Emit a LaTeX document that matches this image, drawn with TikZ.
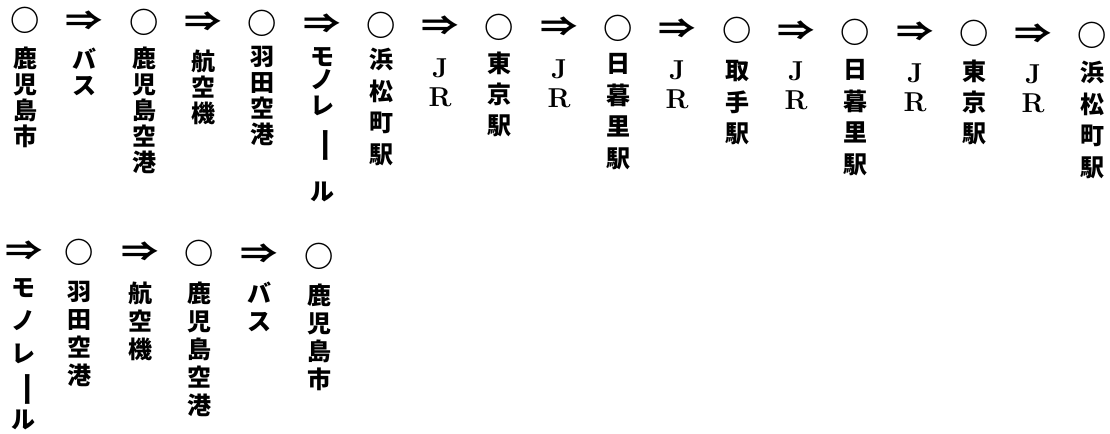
\documentclass[tikz,border=0pt]{standalone}
\usepackage{fontspec}
\newfontfamily\jpfont{Noto Sans CJK JP}
\newcommand{\tbar}{\smash{\rotatebox[origin=c]{-90}{\scalebox{1.5}[1]{ー}}}}

\tikzset{every picture/.style={line width=0.75pt}}
\tikzset{
  sym/.style={inner sep=0pt, font=\jpfont\bfseries\fontsize{22}{22}\selectfont},
  arr/.style={inner sep=0pt, font=\jpfont\bfseries\fontsize{20}{20}\selectfont},
  tate/.style={anchor=north, align=center, inner sep=0pt, font=\jpfont\bfseries\fontsize{18}{19.5}\selectfont},
  tatewide/.style={tate, font=\jpfont\bfseries\fontsize{18}{23.6}\selectfont},
  tatelow/.style={tate, font=\jpfont\bfseries\fontsize{18}{21}\selectfont},
  jr/.style={anchor=north, align=center, inner sep=0pt, font=\bfseries\fontsize{20.5}{21.75}\selectfont}
}

\begin{document}
\begin{tikzpicture}[x=0.75pt,y=0.75pt,yscale=-1,xscale=1]
        \useasboundingbox (0,0) rectangle (1110,434);

        % Text Node
        \draw (25,20) node [sym] (kagoshimaO) {○};
        % Text Node
        \draw (25,46) node [tate] (kagoshima) {鹿\\児\\島\\市};
        % Text Node
        \draw (84,21) node [arr] (busA) {\scalebox{1.4}[1]{⇒}};
        % Text Node
        \draw (84,47) node [tate] (bus) {バ\\ス};
        % Text Node
        \draw (144,22) node [sym] (kagoshimaApO) {○};
        % Text Node
        \draw (144,46) node [tate] (kagoshimaAp) {鹿\\児\\島\\空\\港};
        % Text Node
        \draw (203,22) node [arr] (planeA) {\scalebox{1.4}[1]{⇒}};
        % Text Node
        \draw (203,49) node [tate] (plane) {航\\空\\機};
        % Text Node
        \draw (262,23) node [sym] (hanedaO) {○};
        % Text Node
        \draw (262,46) node [tate] (haneda) {羽\\田\\空\\港};
        % Text Node
        \draw (322,24) node [arr] (monorailA) {\scalebox{1.4}[1]{⇒}};
        % Text Node
        \draw (322,47) node [tate] (monorail) {モ\\[-2.25pt]ノ\\レ\\[8.25pt]\tbar\\[17pt]ル};
        % Text Node
        \draw (381,25) node [sym] (hamamatsuchoO) {○};
        % Text Node
        \draw (381,48) node [tatewide] (hamamatsucho) {浜\\松\\町\\駅};
        % Text Node
        \draw (440,26) node [arr] (jrA) {\scalebox{1.4}[1]{⇒}};
        % Text Node
        \draw (440,58) node [jr] (jr) {J\\R};
        % Text Node
        \draw (499,27) node [sym] (tokyoO) {○};
        % Text Node
        \draw (499,51) node [tatewide] (tokyo) {東\\京\\駅};
        % Text Node
        \draw (559,27) node [arr] (jrB) {\scalebox{1.4}[1]{⇒}};
        % Text Node
        \draw (559,59) node [jr] (jrb) {J\\R};
        % Text Node
        \draw (618,28) node [sym] (nipporiO) {○};
        % Text Node
        \draw (618,53) node [tatewide] (nippori) {日\\暮\\里\\駅};
        % Text Node
        \draw (677,29) node [arr] (jrC) {\scalebox{1.4}[1]{⇒}};
        % Text Node
        \draw (677,60) node [jr] (jrc) {J\\R};
        % Text Node
        \draw (737,30) node [sym] (torideO) {○};
        % Text Node
        \draw (737,60) node [tatewide] (toride) {取\\手\\駅};
        % Text Node
        \draw (796,31) node [arr] (jrD) {\scalebox{1.4}[1]{⇒}};
        % Text Node
        \draw (796,61) node [jr] (jrd) {J\\R};
        % Text Node
        \draw (855,32) node [sym] (nipporiBO) {○};
        % Text Node
        \draw (855,59) node [tatewide] (nipporiB) {日\\暮\\里\\駅};
        % Text Node
        \draw (915,32) node [arr] (jrE) {\scalebox{1.4}[1]{⇒}};
        % Text Node
        \draw (915,63) node [jr] (jre) {J\\R};
        % Text Node
        \draw (974,33) node [sym] (tokyoBO) {○};
        % Text Node
        \draw (974,59) node [tatewide] (tokyoB) {東\\京\\駅};
        % Text Node
        \draw (1033,34) node [arr] (jrF) {\scalebox{1.4}[1]{⇒}};
        % Text Node
        \draw (1033,64) node [jr] (jrf) {J\\R};
        % Text Node
        \draw (1092,35) node [sym] (hamamatsuchoBO) {○};
        % Text Node
        \draw (1092,61) node [tatewide] (hamamatsuchoB) {浜\\松\\町\\駅};

        % Text Node
        \draw (24,251) node [arr] (monorailBA) {\scalebox{1.4}[1]{⇒}};
        % Text Node
        \draw (24,278) node [tate, font=\jpfont\bfseries\fontsize{18}{24.75}\selectfont] (monorailB) {モ\\ノ\\レ\\\tbar\\ル};
        % Text Node
        \draw (79,252) node [sym] (hanedaBO) {○};
        % Text Node
        \draw (79,281) node [tatelow] (hanedaB) {羽\\田\\空\\港};
        % Text Node
        \draw (140,252) node [arr] (planeBA) {\scalebox{1.4}[1]{⇒}};
        % Text Node
        \draw (140,281) node [tatelow] (planeB) {航\\空\\機};
        % Text Node
        \draw (199,253) node [sym] (kagoshimaApBO) {○};
        % Text Node
        \draw (199,281) node [tatelow] (kagoshimaApB) {鹿\\児\\島\\空\\港};
        % Text Node
        \draw (259,254) node [arr] (busBA) {\scalebox{1.4}[1]{⇒}};
        % Text Node
        \draw (259,281) node [tatelow] (busB) {バ\\ス};
        % Text Node
        \draw (319,256) node [sym] (kagoshimaBO) {○};
        % Text Node
        \draw (319,283) node [tatelow] (kagoshimaB) {鹿\\児\\島\\市};

\end{tikzpicture}
\end{document}
